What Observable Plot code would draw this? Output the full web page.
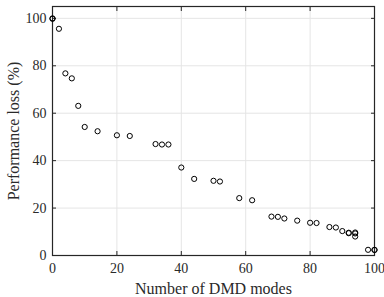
<!DOCTYPE html>
<html>
<head>
<meta charset="utf-8">
<script src="https://cdn.jsdelivr.net/npm/d3@7"></script>
<script src="https://cdn.jsdelivr.net/npm/@observablehq/plot@0.6"></script>
<style>
  html, body { margin: 0; padding: 0; background: #fff; }
  #chart svg { display: block; }
</style>
</head>
<body>
<div id="chart"></div>
<script>
const modes = [0, 0, 2, 4, 6, 8, 10, 14, 20, 24, 32, 34, 36, 40, 44, 50, 52, 58, 62, 68, 70, 72, 76, 80, 82, 86, 88, 90, 92, 92, 94, 94, 94, 98, 100, 100];
const loss  = [100, 99.8, 95.6, 76.8, 74.7, 63.1, 54.2, 52.4, 50.7, 50.4, 47, 46.8, 46.8, 37.1, 32.3, 31.5, 31.2, 24.2, 23.3, 16.4, 16.3, 15.6, 14.7, 13.8, 13.7, 12, 11.8, 10.3, 9.6, 9.4, 9.7, 9.3, 8.0, 2.4, 2.4, 2.3];
const xTicks = [0, 20, 40, 60, 80, 100];
const yTicks = [0, 20, 40, 60, 80, 100];
const xLabel = "Number of DMD modes";
const yLabel = "Performance loss (%)";

const data = modes.map((m, i) => ({m, l: loss[i]}));
const axisColor = "#262626";

const chart = Plot.plot({
  width: 384,
  height: 297,
  marginLeft: 52,
  marginRight: 10,
  marginTop: 6,
  marginBottom: 42,
  style: {fontFamily: "'Liberation Serif', 'Times New Roman', serif", fontSize: "14px", color: axisColor, background: "#fff"},
  x: {domain: [0, 100]},
  y: {domain: [0, 105]},
  marks: [
    Plot.gridX(xTicks, {stroke: "#e5e5e5", strokeOpacity: 1}),
    Plot.gridY(yTicks, {stroke: "#e5e5e5", strokeOpacity: 1}),
    Plot.axisX(xTicks, {anchor: "bottom", tickSize: 0, tickPadding: 8, label: null, fontSize: 14, fill: "#2a2a2a"}),
    Plot.axisY(yTicks, {anchor: "left", tickSize: 0, tickPadding: 6, label: null, fontSize: 14, fill: "#2a2a2a"}),
    Plot.axisX(xTicks, {anchor: "bottom", tickSize: 0, text: null, label: xLabel, labelAnchor: "center", labelArrow: "none", labelOffset: 38, fontSize: 16, fill: "#2a2a2a"}),
    Plot.axisY(yTicks, {anchor: "left", tickSize: 0, text: null, label: yLabel, labelAnchor: "center", labelArrow: "none", labelOffset: 45, fontSize: 16, fill: "#2a2a2a"}),
    Plot.axisX(xTicks, {anchor: "bottom", tickSize: -4, text: null, label: null, stroke: axisColor}),
    Plot.axisX(xTicks, {anchor: "top", tickSize: -4, text: null, label: null, stroke: axisColor}),
    Plot.axisY(yTicks, {anchor: "left", tickSize: -4, text: null, label: null, stroke: axisColor}),
    Plot.axisY(yTicks, {anchor: "right", tickSize: -4, text: null, label: null, stroke: axisColor}),
    Plot.frame({stroke: axisColor, strokeWidth: 1.2}),
    Plot.dot(data, {x: "m", y: "l", r: 2.6, stroke: "#000", strokeWidth: 1, fill: "none"})
  ]
});
document.getElementById("chart").appendChild(chart);
</script>
</body>
</html>
